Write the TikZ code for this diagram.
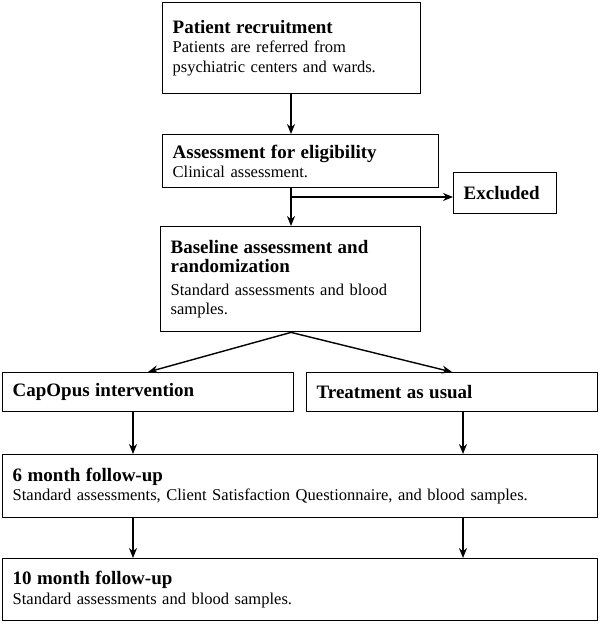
\documentclass[tikz,border=0pt]{standalone}
\usepackage{fontspec}
\setmainfont{Liberation Serif}
\usetikzlibrary{arrows.meta}
\newcommand{\ttl}[1]{{\fontsize{10.8}{12.5}\selectfont\bfseries #1}}
\newcommand{\nohyph}{\hyphenpenalty=10000\relax}
\begin{document}
\begin{tikzpicture}
[ x=0.02cm, y=-0.02cm, >={Stealth[length=2mm,width=1.6mm]}
, box/.style={draw, thick, anchor=north west, align=left, inner sep=0.2cm,
    font=\fontsize{9.4}{11}\selectfont\nohyph}
, link/.style={thick, ->}
]
\useasboundingbox (0,0) rectangle (600,626);
% Boxes
\node (recruit) [box, minimum width=5.16cm, minimum height=1.82cm, text width=4.76cm] at (162,2)
  {\ttl{Patient recruitment}\\Patients are referred from psychiatric centers and wards.};
\node (elig) [box, minimum width=5.52cm, minimum height=0.9cm, text width=5.12cm] at (162,134)
  {\ttl{Assessment for eligibility}\\Clinical assessment.};
\node (excl) [box, minimum width=2.06cm, minimum height=0.82cm, text width=1.66cm] at (453,172)
  {\ttl{Excluded}};
\node (base) [box, minimum width=5.2cm, minimum height=2.1cm, text width=4.8cm] at (160,226)
  {\ttl{Baseline assessment and randomization}\\[2pt]Standard assessments and blood samples.};
\node (cap) [box, minimum width=5.82cm, minimum height=0.78cm, text width=5.42cm] at (2,372)
  {\ttl{CapOpus intervention}};
\node (tau) [box, minimum width=5.82cm, minimum height=0.78cm, text width=5.42cm] at (306,372)
  {\ttl{Treatment as usual}};
\node (six) [box, minimum width=11.9cm, minimum height=1.26cm, text width=11.5cm] at (2,454)
  {\ttl{6 month follow-up}\\Standard assessments, Client Satisfaction Questionnaire, and blood samples.};
\node (ten) [box, minimum width=11.9cm, minimum height=1.24cm, text width=11.5cm] at (2,558)
  {\ttl{10 month follow-up}\\Standard assessments and blood samples.};
% Connectors
\coordinate (split) at (291,197);
\draw [link] (recruit.south -| 291,0) -- (elig.north -| 291,0);
\draw [link] (elig.south -| 291,0) -- (base.north -| 291,0);
\draw [link] (split) -- (excl.west |- split);
\draw [link] (base.south -| 291,0) -- (cap.north -| 148,0);
\draw [link] (base.south -| 291,0) -- (tau.north -| 452,0);
\draw [link] (cap.south -| 133,0) -- (six.north -| 133,0);
\draw [link] (tau.south -| 463,0) -- (six.north -| 463,0);
\draw [link] (six.south -| 133,0) -- (ten.north -| 133,0);
\draw [link] (six.south -| 463,0) -- (ten.north -| 463,0);
\end{tikzpicture}
\end{document}
